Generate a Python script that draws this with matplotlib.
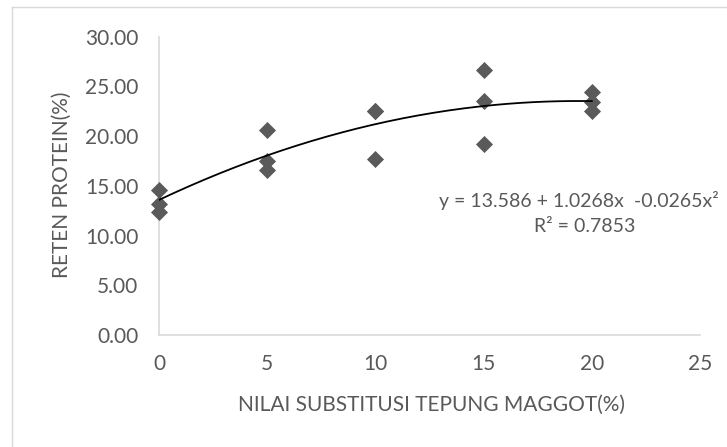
import numpy as np
import matplotlib
matplotlib.use("Agg")
import matplotlib.pyplot as plt
from matplotlib.lines import Line2D

# data
substitusi = [0, 0, 0, 5, 5, 5, 10, 10, 10, 15, 15, 15, 20, 20, 20]
reten_protein = [14.6, 13.2, 12.4, 20.6, 17.5, 16.6, 22.5, 22.5, 17.7,
                 26.7, 23.5, 19.2, 24.4, 23.4, 22.5]
# trendline coefficients (c0, c1, c2) as printed on the chart
trend_coef = [13.586, 1.0268, -0.0265]
r_squared = 0.7853

x_ticks = [0, 5, 10, 15, 20, 25]
y_ticks = [0, 5, 10, 15, 20, 25, 30]

plt.rcParams['font.family'] = ['Lato', 'DejaVu Sans']
text_col = '#595959'
grid_col = '#d9d9d9'

W, H = 727, 447
fig = plt.figure(figsize=(W / 100, H / 100), dpi=100)
fig.patch.set_facecolor('white')

# chart area frame (only left and top edges visible in the crop)
fx0, fy1 = 12 / W, 1 - 7 / H
fig.add_artist(Line2D([fx0, fx0], [0, fy1], transform=fig.transFigure, color=grid_col, lw=1))
fig.add_artist(Line2D([fx0, 1], [fy1, fy1], transform=fig.transFigure, color=grid_col, lw=1))

left, right = 159 / W, 700 / W
bottom, top = 1 - 335 / H, 1 - 36.7 / H
ax = fig.add_axes([left, bottom, right - left, top - bottom])

ax.scatter(substitusi, reten_protein, marker='D', s=8.7 ** 2, color='#5a5a5a',
           linewidths=0, zorder=3, clip_on=False)

xs = np.linspace(min(substitusi), max(substitusi), 200)
ys = trend_coef[0] + trend_coef[1] * xs + trend_coef[2] * xs ** 2
ax.plot(xs, ys, color='black', lw=1.3, zorder=4)

ax.set_xlim(0, 25)
ax.set_ylim(0, 30)
ax.set_xticks(x_ticks)
ax.set_yticks(y_ticks)
ax.set_yticklabels(['%.2f' % v for v in y_ticks])
ax.tick_params(length=0, labelsize=15, colors=text_col)
ax.tick_params(axis='y', pad=15)
ax.tick_params(axis='x', pad=14)
for s in ['top', 'right']:
    ax.spines[s].set_visible(False)
for s in ['left', 'bottom']:
    ax.spines[s].set_color(grid_col)
    ax.spines[s].set_linewidth(1.2)

fig.text(431 / W, 1 - 405 / H, 'NILAI SUBSTITUSI TEPUNG MAGGOT(%)', ha='center', va='center',
         fontsize=15, color=text_col)
fig.text(62 / W, 1 - 185 / H, 'RETEN PROTEIN(%)', ha='center', va='center', rotation=90,
         fontsize=15, color=text_col)

# trendline label
eq = 'y = %.3f + %.4fx  %.4fx²' % (trend_coef[0], trend_coef[1], trend_coef[2])
fig.text(719 / W, 1 - 200 / H, eq, ha='right', va='center', fontsize=14, color=text_col)
fig.text(585 / W, 1 - 227 / H, 'R² = %.4f' % r_squared, ha='center', va='center',
         fontsize=14, color=text_col)

fig.savefig('out.png', dpi=100)
